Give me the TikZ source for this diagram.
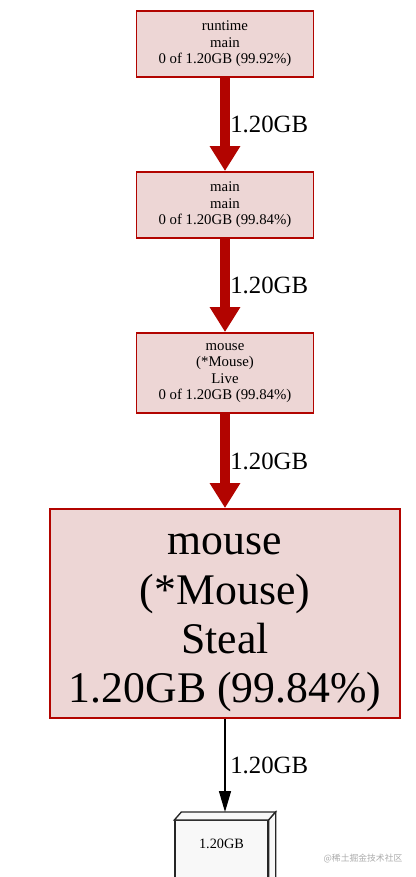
\documentclass[tikz,border=0pt]{standalone}
\usepackage{fontspec}
\setmainfont{Liberation Serif}
\newfontfamily\cjkfont{Noto Sans CJK SC}
\usepackage{tikz}
\usetikzlibrary{arrows.meta,positioning,calc}
\usepackage{xcolor}
\definecolor{heapred}{HTML}{B20400}
\definecolor{heapfill}{HTML}{EDD6D5}
\definecolor{leaffill}{HTML}{F8F8F8}
\definecolor{wmgray}{HTML}{ABABAB}
\tikzset{
  fnbox/.style   = {draw=heapred, fill=heapfill, line width=1.4pt, rectangle,
                    align=center, minimum width=132.75pt,
                    font=\fontsize{11.1}{12.4}\selectfont},
  bigbox/.style  = {fnbox, minimum width=262.5pt, minimum height=156.75pt,
                    font=\fontsize{32.8}{37}\selectfont},
  leafbox/.style = {draw=black!85, fill=leaffill, line width=1pt, rectangle,
                    inner sep=0pt, minimum width=69.75pt, text height=21pt,
                    text depth=30pt, font=\fontsize{10.7}{12}\selectfont},
  heavy/.style   = {-{Triangle[length=18.75pt,width=21.75pt]}, heapred,
                    line width=7.5pt},
  light/.style   = {-{Triangle[length=15.75pt,width=9pt]}, black,
                    line width=1.1pt},
  wt/.style      = {midway, right, inner xsep=4pt, outer sep=0pt, black,
                    font=\fontsize{18.6}{20}\selectfont},
}

\begin{document}
\begin{tikzpicture}[x=0.75pt, y=-0.75pt]
\useasboundingbox (0,0) rectangle (416,877);
\clip (0,0) rectangle (416,877);
% ---- call chain ----
\node[fnbox, minimum height=49.5pt] (rtmain) at (225,44)
     {runtime\\ main\\ 0 of 1.20GB (99.92\%)};
\node[fnbox, minimum height=49.5pt] (mainmain) at (225,205)
     {main\\ main\\ 0 of 1.20GB (99.84\%)};
\node[fnbox, minimum height=60pt] (live) at (225,373)
     {mouse\\ (*Mouse)\\ Live\\ 0 of 1.20GB (99.84\%)};
\node[bigbox] (steal) at (225,613.5)
     {\rule{0pt}{30pt}mouse\\ (*Mouse)\\ Steal\\ 1.20GB (99.84\%)};
% ---- leaf (3d box) ----
\node[leafbox, anchor=north] (leaf) at (221.5,820) {1.20GB};
\draw[draw=black!85, fill=leaffill, line width=1pt, line join=miter]
     (leaf.north west) -- ++(7,-8) -- ($(leaf.north east)+(7,-8)$)
     -- (leaf.north east) -- cycle;
\draw[draw=black!85, fill=leaffill, line width=1pt, line join=miter]
     (leaf.north east) -- ++(7,-8) -- ($(leaf.south east)+(7,-8)$)
     -- (leaf.south east) -- cycle;
\coordinate (leaftop) at ($(leaf.north)+(3.5,-8)$);
% ---- edges ----
\draw[heavy] (rtmain) -- (mainmain) node[wt] {1.20GB};
\draw[heavy] (mainmain) -- (live) node[wt] {1.20GB};
\draw[heavy] (live) -- (steal) node[wt] {1.20GB};
\draw[light] (steal.south) -- (leaftop) node[wt] {1.20GB};
% ---- watermark ----
\node[wmgray, font=\cjkfont\fontsize{6.6}{7}\selectfont] (wm) at (363,859)
     {@稀土掘金技术社区};
\end{tikzpicture}
\end{document}
